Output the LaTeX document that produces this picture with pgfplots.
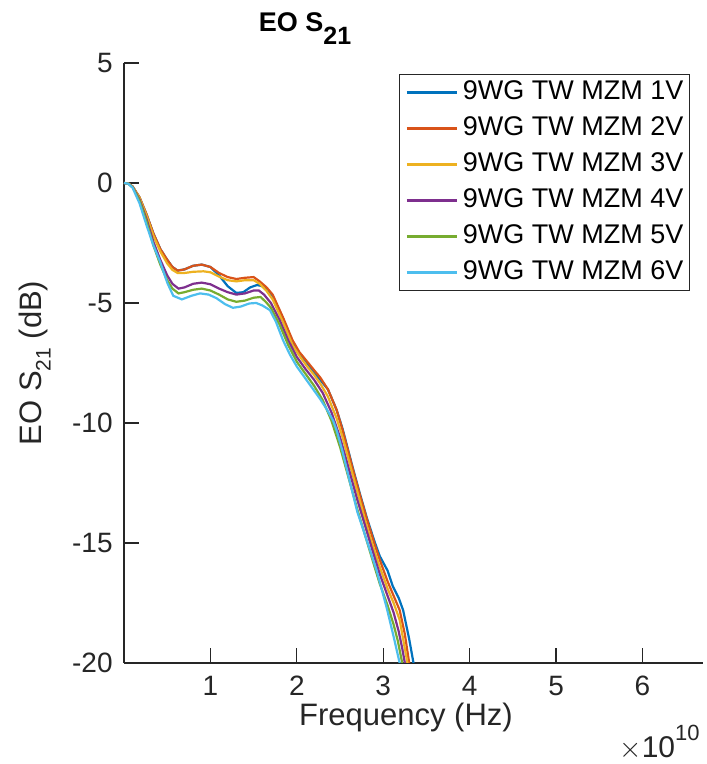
\documentclass[border=0pt]{standalone}
\usepackage{pgfplots}
\pgfplotsset{compat=1.18}
\usepackage{fontspec}
\setmainfont{Liberation Sans}
\definecolor{c1}{rgb}{0,0.447,0.741}
\definecolor{c2}{rgb}{0.85,0.325,0.098}
\definecolor{c3}{rgb}{0.929,0.694,0.125}
\definecolor{c4}{rgb}{0.494,0.184,0.556}
\definecolor{c5}{rgb}{0.466,0.674,0.188}
\definecolor{c6}{rgb}{0.301,0.745,0.933}
\definecolor{axgray}{rgb}{0.15,0.15,0.15}
\newcommand\sub[3]{\raisebox{-#3}{\fontsize{#2}{#2}\selectfont #1}}

\pgfplotstableread{
x y
0 0
0.05 -0.02
0.1 -0.15
0.18 -0.6
0.26 -1.3
0.34 -2.1
0.42 -2.75
0.5 -3.2
0.56 -3.5
0.62 -3.65
0.7 -3.6
0.8 -3.45
0.9 -3.4
1.0 -3.5
1.1 -3.85
1.2 -4.3
1.3 -4.58
1.38 -4.55
1.46 -4.35
1.54 -4.25
1.6 -4.3
1.65 -4.4
1.72 -4.7
1.84 -5.65
1.95 -6.6
2.03 -7.1
2.11 -7.45
2.2 -7.9
2.27 -8.2
2.36 -8.6
2.46 -9.45
2.53 -10.25
2.65 -11.9
2.73 -12.95
2.81 -13.95
2.9 -14.95
2.96 -15.55
3.05 -16.15
3.11 -16.8
3.18 -17.3
3.23 -17.8
3.3 -19.0
3.35 -20.0
3.38 -20.8
}\dA

\pgfplotstableread{
x y
0 0
0.05 -0.02
0.1 -0.15
0.18 -0.6
0.26 -1.3
0.34 -2.1
0.42 -2.75
0.5 -3.2
0.56 -3.5
0.62 -3.65
0.7 -3.6
0.8 -3.45
0.9 -3.4
1.0 -3.5
1.1 -3.75
1.2 -3.92
1.3 -4.0
1.4 -3.95
1.5 -3.92
1.57 -4.1
1.65 -4.35
1.72 -4.65
1.84 -5.6
1.95 -6.55
2.03 -7.05
2.11 -7.4
2.2 -7.8
2.27 -8.1
2.36 -8.6
2.46 -9.45
2.53 -10.3
2.65 -11.95
2.73 -13.0
2.81 -14.0
2.9 -15.05
2.96 -15.7
3.05 -16.6
3.12 -17.2
3.19 -17.8
3.25 -18.8
3.30 -20.0
3.33 -20.8
}\dB

\pgfplotstableread{
x y
0 0
0.05 -0.02
0.1 -0.15
0.18 -0.62
0.26 -1.35
0.34 -2.2
0.42 -2.85
0.5 -3.35
0.56 -3.62
0.62 -3.75
0.7 -3.75
0.8 -3.7
0.92 -3.68
1.0 -3.72
1.1 -3.9
1.2 -4.05
1.3 -4.1
1.4 -4.05
1.5 -4.05
1.57 -4.2
1.65 -4.5
1.72 -4.85
1.84 -5.8
1.95 -6.75
2.03 -7.2
2.11 -7.6
2.2 -8.0
2.27 -8.35
2.36 -8.9
2.46 -9.8
2.53 -10.6
2.65 -12.2
2.73 -13.25
2.81 -14.3
2.9 -15.35
2.96 -16.0
3.05 -16.9
3.12 -17.5
3.19 -18.2
3.24 -19.2
3.28 -20.0
3.31 -20.8
}\dC

\pgfplotstableread{
x y
0 0
0.05 -0.03
0.1 -0.17
0.18 -0.7
0.26 -1.5
0.34 -2.45
0.42 -3.2
0.5 -3.85
0.56 -4.2
0.63 -4.4
0.7 -4.35
0.8 -4.2
0.9 -4.15
1.0 -4.22
1.1 -4.4
1.2 -4.55
1.3 -4.65
1.4 -4.6
1.5 -4.48
1.56 -4.48
1.62 -4.65
1.7 -5.0
1.8 -5.7
1.9 -6.55
2.0 -7.25
2.1 -7.75
2.2 -8.2
2.3 -8.75
2.4 -9.55
2.5 -10.6
2.6 -11.9
2.7 -13.2
2.8 -14.4
2.9 -15.6
2.96 -16.3
3.05 -17.2
3.12 -17.9
3.18 -18.7
3.22 -19.4
3.25 -20.0
3.28 -20.8
}\dD

\pgfplotstableread{
x y
0 0
0.05 -0.03
0.1 -0.18
0.18 -0.75
0.26 -1.6
0.34 -2.6
0.42 -3.4
0.5 -4.05
0.56 -4.4
0.63 -4.6
0.7 -4.55
0.8 -4.45
0.9 -4.4
1.0 -4.48
1.1 -4.65
1.2 -4.85
1.3 -4.95
1.4 -4.9
1.5 -4.78
1.58 -4.75
1.64 -4.95
1.7 -5.2
1.8 -5.9
1.9 -6.75
2.0 -7.45
2.1 -7.95
2.2 -8.45
2.3 -9.05
2.4 -9.9
2.5 -11.0
2.6 -12.3
2.7 -13.6
2.8 -14.8
2.9 -16.0
2.96 -16.7
3.05 -17.6
3.12 -18.4
3.17 -19.1
3.22 -20.0
3.25 -20.8
}\dE

\pgfplotstableread{
x y
0 0
0.05 -0.03
0.1 -0.2
0.18 -0.85
0.26 -1.75
0.34 -2.6
0.42 -3.3
0.5 -4.15
0.57 -4.7
0.67 -4.85
0.78 -4.7
0.88 -4.6
0.98 -4.65
1.07 -4.8
1.17 -5.05
1.26 -5.2
1.35 -5.15
1.45 -5.02
1.53 -5.0
1.6 -5.1
1.69 -5.3
1.76 -5.8
1.84 -6.55
1.92 -7.15
2.0 -7.65
2.1 -8.15
2.19 -8.6
2.27 -9.0
2.35 -9.45
2.42 -9.9
2.46 -10.3
2.53 -11.2
2.61 -12.4
2.7 -13.7
2.81 -14.9
2.92 -16.1
3.04 -17.7
3.12 -18.9
3.19 -20.0
3.22 -20.8
}\dF

\begin{document}
\begin{tikzpicture}
\begin{axis}[
  scale only axis,
  width=289.5pt, height=300pt,
  xmin=0, xmax=6.7, ymin=-20, ymax=5,
  xtick={1,2,3,4,5,6},
  ytick={-20,-15,-10,-5,0,5},
  axis x line*=bottom, axis y line*=left,
  axis line style={draw=axgray, line width=0.6pt, -},
  tick align=inside,
  major tick length=7.5pt,
  tick style={draw=axgray, line width=0.6pt},
  /pgf/number format/assume math mode=true,
  ticklabel style={font=\fontsize{14}{16}\selectfont, text=axgray},
  xticklabel style={anchor=base, inner sep=0pt, yshift=-16.5pt},
  yticklabel style={anchor=east, inner sep=0pt, xshift=-5.5pt},
  xlabel={Frequency (Hz)},
  ylabel={EO S\sub{21}{10.5}{0.55ex} (dB)},
  every axis x label/.style={at={(axis description cs:0.487,-0.104)}, anchor=base, font=\fontsize{15.5}{17}\selectfont, text=axgray, inner sep=0pt},
  every axis y label/.style={at={(axis description cs:-0.1537,0.5)}, rotate=90, anchor=center, font=\fontsize{15.5}{17}\selectfont, text=axgray, inner sep=0pt},
  title={\textbf{EO S\sub{\textbf{21}}{12.5}{0.85ex}}},
  every axis title/.style={at={(axis description cs:0.3126,1.0517)}, anchor=base, font=\fontsize{13.5}{15}\selectfont, inner sep=0pt},
  legend cell align=left,
  legend image code/.code={\draw[#1] (0pt,0pt) -- (25pt,0pt);},
  legend style={at={(axis description cs:1,1)}, anchor=north east, xshift=-6.5pt, yshift=-5.5pt,
    draw=axgray, line width=0.6pt, fill=white,
    font=\fontsize{13.5}{15}\selectfont,
    inner xsep=3pt, inner ysep=3pt, row sep=6pt,
    nodes={inner sep=0pt, text height=9.7pt, text depth=2.3pt},
    /tikz/every odd column/.style={column sep=2.5pt}},
  clip=true,
]
\addplot[c1, line width=1.1pt] table {\dA};
\addlegendentry{9WG TW MZM 1V}
\addplot[c2, line width=1.1pt] table {\dB};
\addlegendentry{9WG TW MZM 2V}
\addplot[c3, line width=1.1pt] table {\dC};
\addlegendentry{9WG TW MZM 3V}
\addplot[c4, line width=1.1pt] table {\dD};
\addlegendentry{9WG TW MZM 4V}
\addplot[c5, line width=1.1pt] table {\dE};
\addlegendentry{9WG TW MZM 5V}
\addplot[c6, line width=1.1pt] table {\dF};
\addlegendentry{9WG TW MZM 6V}
\end{axis}
\node[anchor=base east, inner sep=0pt, text=axgray, font=\fontsize{15}{17}\selectfont]
  at ([xshift=-1.5pt,yshift=-47pt]current axis.south east) {$\times$10\raisebox{0.55em}{\fontsize{11}{12}\selectfont 10}};
\pgfresetboundingbox
\path[use as bounding box] ([xshift=-62pt,yshift=-50.5pt]current axis.south west) rectangle ([xshift=1.5pt,yshift=31.5pt]current axis.north east);
\end{tikzpicture}
\end{document}
